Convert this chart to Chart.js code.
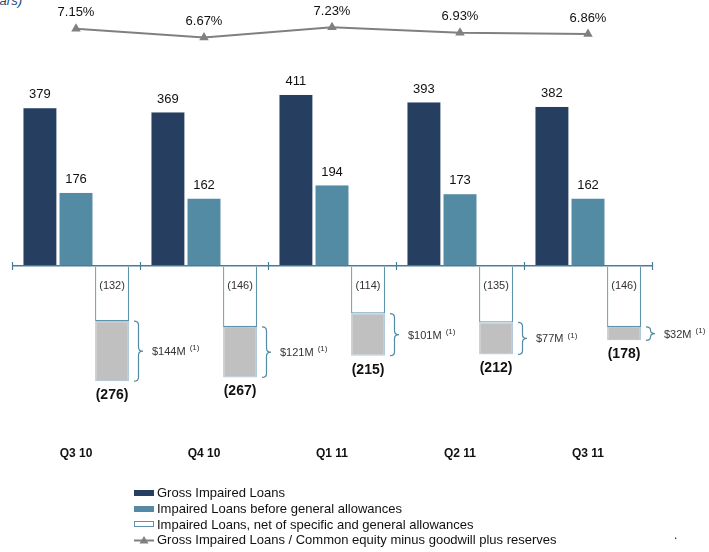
<!DOCTYPE html>
<html>
<head>
<meta charset="utf-8">
<script src="https://cdn.jsdelivr.net/npm/chart.js@4/dist/chart.umd.min.js"></script>
<style>
  html, body { margin: 0; padding: 0; background: #fff; }
  body { width: 709px; height: 552px; position: relative; overflow: hidden;
         font-family: 'Liberation Sans', Arial, sans-serif; }
  #chart { position: absolute; left: 0; top: 0; }
  #unit { position: absolute; right: 687px; top: -7px; white-space: nowrap;
          font-style: italic; font-size: 13px; color: #1f497d; }
  #legend { position: absolute; left: 134px; top: 485px; font-size: 13px; color: #111; }
  #legend .row { height: 15.8px; line-height: 15.8px; display: flex; align-items: center; white-space: nowrap; }
  #legend .sw { width: 20px; height: 6px; margin-right: 3px; box-sizing: border-box; flex: none; }
  #legend svg { margin-right: 3px; flex: none; }
  #dot { position: absolute; left: 674px; top: 528px; font-size: 12px; color: #222; }
</style>
</head>
<body>
<div id="unit">(in millions of dollars)</div>
<canvas id="chart" width="709" height="552"></canvas>
<div id="legend"></div>
<div id="dot">.</div>
<script>
// Quarterly impaired loan figures (millions of dollars)
const quarters = ['Q3 10', 'Q4 10', 'Q1 11', 'Q2 11', 'Q3 11'];
const grossImpairedLoans = [379, 369, 411, 393, 382];
const beforeGeneralAllowances = [176, 162, 194, 173, 162];
const netOfAllowances = [-132, -146, -114, -135, -146];
const generalAllowanceGap = [-144, -121, -101, -77, -32];
const impairedToEquityPct = [7.15, 6.67, 7.23, 6.93, 6.86];

const NAVY = '#263f60';
const TEAL = '#538aa4';
const AXIS = '#4a7b99';
const GREY_LINE = '#808080';
const FONT = "'Liberation Sans', Arial, sans-serif";

// Value labels, braces and axis tick marks
const annotations = {
  id: 'annotations',
  afterDatasetsDraw(chart) {
    const ctx = chart.ctx;
    const xs = chart.scales.x;
    const y0 = chart.scales.y.getPixelForValue(0);
    ctx.save();

    // tick marks crossing the zero line at category boundaries
    ctx.strokeStyle = AXIS;
    ctx.lineWidth = 1.2;
    for (let i = 0; i <= quarters.length; i++) {
      const px = Math.round(xs.getPixelForValue(i - 0.5)) + 0.5;
      ctx.beginPath();
      ctx.moveTo(px, y0 - 4);
      ctx.lineTo(px, y0 + 4);
      ctx.stroke();
    }

    ctx.textAlign = 'center';
    ctx.textBaseline = 'middle';

    // positive bar values
    [0, 1].forEach(di => {
      const meta = chart.getDatasetMeta(di);
      const data = chart.data.datasets[di].data;
      ctx.font = `13px ${FONT}`;
      ctx.fillStyle = '#111';
      meta.data.forEach((bar, i) => {
        ctx.fillText(String(data[i]), bar.x, bar.y - 13);
      });
    });

    // net-of-allowances values inside the outlined bars
    const netMeta = chart.getDatasetMeta(2);
    ctx.font = `11px ${FONT}`;
    ctx.fillStyle = '#333';
    netMeta.data.forEach((bar, i) => {
      ctx.fillText('(' + Math.abs(netOfAllowances[i]) + ')', bar.x, y0 + 20);
    });

    // general allowance braces, amounts and stack totals
    const gapMeta = chart.getDatasetMeta(3);
    gapMeta.data.forEach((bar, i) => {
      const top = bar.base;
      const bottom = bar.y;
      const right = bar.x + bar.width / 2;
      const bx = right + 5;
      const mid = (top + bottom) / 2;
      const w = 4.5;
      const r = Math.min(4, (bottom - top) / 4);

      ctx.strokeStyle = TEAL;
      ctx.lineWidth = 1.2;
      ctx.beginPath();
      ctx.moveTo(bx, top);
      ctx.quadraticCurveTo(bx + w, top, bx + w, top + r);
      ctx.lineTo(bx + w, mid - r);
      ctx.quadraticCurveTo(bx + w, mid, bx + w * 2, mid);
      ctx.quadraticCurveTo(bx + w, mid, bx + w, mid + r);
      ctx.lineTo(bx + w, bottom - r);
      ctx.quadraticCurveTo(bx + w, bottom, bx, bottom);
      ctx.stroke();

      ctx.textAlign = 'left';
      ctx.font = `11px ${FONT}`;
      ctx.fillStyle = '#333';
      const amount = '$' + Math.abs(generalAllowanceGap[i]) + 'M';
      const tx = right + 23;
      ctx.fillText(amount, tx, mid + 1);
      const aw = ctx.measureText(amount).width;
      ctx.font = `8px ${FONT}`;
      ctx.fillText('(1)', tx + aw + 4, mid - 3);

      ctx.textAlign = 'center';
      ctx.font = `bold 14px ${FONT}`;
      ctx.fillStyle = '#111';
      const total = Math.abs(netOfAllowances[i] + generalAllowanceGap[i]);
      ctx.fillText('(' + total + ')', bar.x, bottom + 14);
    });

    // ratio labels above the line
    const lineMeta = chart.getDatasetMeta(4);
    ctx.font = `13px ${FONT}`;
    ctx.fillStyle = '#111';
    lineMeta.data.forEach((pt, i) => {
      ctx.fillText(impairedToEquityPct[i].toFixed(2) + '%', pt.x, pt.y - 16);
    });

    ctx.restore();
  }
};

const chart = new Chart(document.getElementById('chart'), {
  data: {
    labels: quarters,
    datasets: [
      {
        type: 'bar', label: 'Gross Impaired Loans', data: grossImpairedLoans,
        backgroundColor: NAVY, borderColor: '#dfe6ee', borderWidth: 0.5,
        stack: 'gross', yAxisID: 'y', order: 2
      },
      {
        type: 'bar', label: 'Impaired Loans before general allowances', data: beforeGeneralAllowances,
        backgroundColor: TEAL, borderColor: '#dfe6ee', borderWidth: 0.5,
        stack: 'before', yAxisID: 'y', order: 2
      },
      {
        type: 'bar', label: 'Impaired Loans, net of specific and general allowances', data: netOfAllowances,
        backgroundColor: '#ffffff', borderColor: '#5f93ad', borderWidth: 1.2,
        borderSkipped: 'start', stack: 'net', yAxisID: 'y', order: 2
      },
      {
        type: 'bar', label: 'General allowance', data: generalAllowanceGap,
        backgroundColor: '#c0c0c0', borderColor: '#b4ccd9', borderWidth: 1.2,
        borderSkipped: false, stack: 'net', yAxisID: 'y', order: 2
      },
      {
        type: 'line', label: 'Gross Impaired Loans / Common equity minus goodwill plus reserves',
        data: impairedToEquityPct, yAxisID: 'y2',
        borderColor: GREY_LINE, backgroundColor: GREY_LINE, borderWidth: 2,
        pointStyle: 'triangle', pointRadius: 5.5, pointBorderWidth: 0,
        tension: 0, order: 1
      }
    ]
  },
  options: {
    responsive: false,
    animation: false,
    layout: { padding: { left: 12, right: 57, top: 5, bottom: 69 } },
    plugins: { legend: { display: false }, tooltip: { enabled: false } },
    datasets: { bar: { categoryPercentage: 0.845, barPercentage: 0.94 } },
    scales: {
      x: {
        type: 'category',
        grid: { display: false, drawTicks: false },
        border: { display: false },
        ticks: { color: '#111', padding: 22, font: { family: FONT, size: 12, weight: 'bold' } }
      },
      y: {
        stacked: true,
        min: -380, max: 624,
        afterBuildTicks(scale) { scale.ticks = [{ value: 0 }]; },
        ticks: { display: false },
        border: { display: false },
        grid: { drawTicks: false, color: AXIS, lineWidth: 1.5 }
      },
      y2: {
        display: false,
        min: -14.63, max: 8.428
      }
    }
  },
  plugins: [annotations]
});

// Legend rows built from the chart's datasets
const legend = document.getElementById('legend');
[0, 1, 2, 4].forEach(di => {
  const ds = chart.data.datasets[di];
  const row = document.createElement('div');
  row.className = 'row';
  if (ds.type === 'line') {
    row.innerHTML = '<svg width="20" height="10" viewBox="0 0 20 10">' +
      '<line x1="0" y1="5.5" x2="20" y2="5.5" stroke="' + GREY_LINE + '" stroke-width="2"/>' +
      '<polygon points="10,1 14.5,8.5 5.5,8.5" fill="' + GREY_LINE + '"/></svg>';
  } else {
    const sw = document.createElement('div');
    sw.className = 'sw';
    sw.style.background = ds.backgroundColor;
    if (ds.backgroundColor === '#ffffff') sw.style.border = '1px solid ' + ds.borderColor;
    row.appendChild(sw);
  }
  const t = document.createElement('span');
  t.textContent = ds.label;
  row.appendChild(t);
  legend.appendChild(row);
});
</script>
</body>
</html>
